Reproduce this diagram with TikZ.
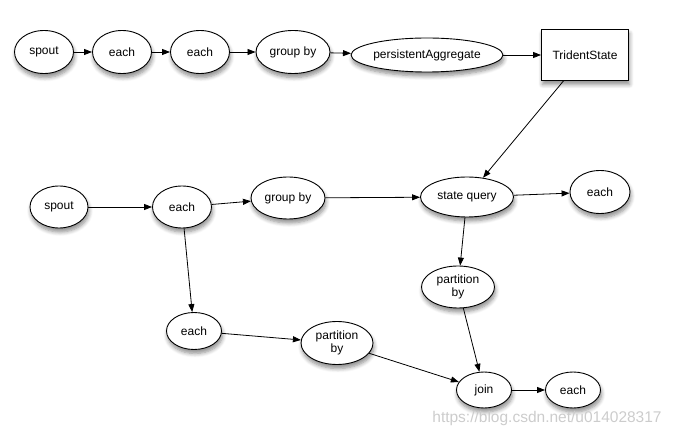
\documentclass[tikz,border=0pt]{standalone}
\usepackage{fontspec}
\setmainfont{Liberation Sans}
\usetikzlibrary{shapes.geometric,arrows.meta,shadows.blur}
\begin{document}
\begin{tikzpicture}[x=1pt,y=-1pt,
  font=\fontsize{12}{13}\selectfont,
  sh/.style={blur shadow={shadow xshift=1pt,shadow yshift=-4pt,shadow opacity=45,shadow blur radius=4pt,shadow blur steps=6}},
  op/.style={ellipse,draw,line width=0.9pt,fill=white,inner sep=0pt,sh,align=center},
  box/.style={rectangle,draw,line width=0.9pt,fill=white,inner sep=0pt,sh},
  conn/.style={line width=0.8pt,-{Triangle[length=8pt,width=6pt]}}]
\useasboundingbox (0,0) rectangle (675,438);
% top row
\node[op,minimum width=59pt,minimum height=43pt] (s1) at (44,52) {spout};
\node[op,minimum width=59pt,minimum height=43pt] (e1) at (122,52) {each};
\node[op,minimum width=59pt,minimum height=43pt] (e2) at (200,52) {each};
\node[op,minimum width=74pt,minimum height=43pt] (g1) at (293,52) {group by};
\node[op,minimum width=149pt,minimum height=34pt] (pa) at (427,55) {persistentAggregate};
\node[box,minimum width=87pt,minimum height=51pt] (ts) at (585,55) {TridentState};
% middle row
\node[op,minimum width=58pt,minimum height=42pt] (s2) at (59,207) {spout};
\node[op,minimum width=59pt,minimum height=42pt] (e3) at (182,207) {each};
\node[op,minimum width=74pt,minimum height=42pt] (g2) at (288,198) {group by};
\node[op,minimum width=93pt,minimum height=40pt] (sq) at (467,197) {state query};
\node[op,minimum width=60pt,minimum height=43pt] (e4) at (600,192) {each};
\node[op,minimum width=73pt,minimum height=42pt] (pr) at (458,287) {partition\\by};
% bottom
\node[op,minimum width=55pt,minimum height=37pt] (e5) at (194,331) {each};
\node[op,minimum width=72pt,minimum height=43pt] (pl) at (337,343) {partition\\by};
\node[op,minimum width=55pt,minimum height=36pt] (jn) at (484,390) {join};
\node[op,minimum width=55pt,minimum height=36pt] (e6) at (573,390) {each};
% watermark
\node[text=black!20,font=\fontsize{15.5}{16}\selectfont] (wm) at (547,418) {https://blog.csdn.net/u014028317};
% connectors
\draw[conn] (s1) -- (e1);
\draw[conn] (e1) -- (e2);
\draw[conn] (e2) -- (g1);
\draw[conn] (g1) -- (pa);
\draw[conn] (pa) -- (ts);
\draw[conn] (ts) -- (sq);
\draw[conn] (s2) -- (e3);
\draw[conn] (e3) -- (g2);
\draw[conn] (g2) -- (sq);
\draw[conn] (sq) -- (e4);
\draw[conn] (sq) -- (pr);
\draw[conn] (e3) -- (e5);
\draw[conn] (e5) -- (pl);
\draw[conn] (pl) -- (jn);
\draw[conn] (pr) -- (jn);
\draw[conn] (jn) -- (e6);
\end{tikzpicture}
\end{document}
